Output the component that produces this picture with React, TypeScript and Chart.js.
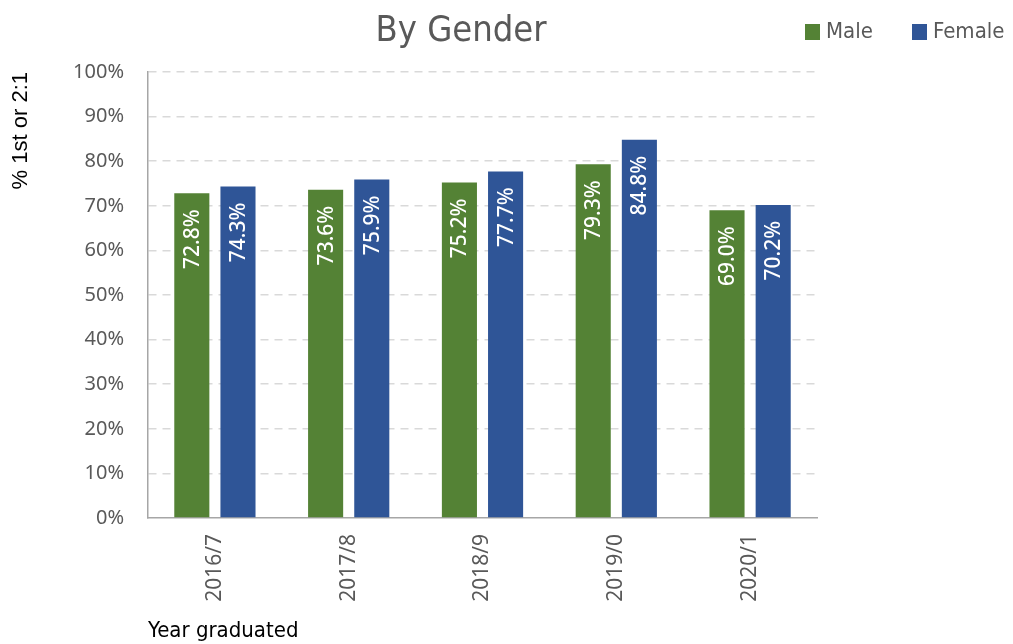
import React, { useEffect, useRef } from "react";
import { Chart, registerables } from "chart.js";

Chart.register(...registerables);

const categories = ["2016/7", "2017/8", "2018/9", "2019/0", "2020/1"];
const maleValues = [72.8, 73.6, 75.2, 79.3, 69.0];
const femaleValues = [74.3, 75.9, 77.7, 84.8, 70.2];
const seriesNames = ["Male", "Female"];
const seriesColors = ["#548235", "#2F5597"];
const yTicks = [0, 10, 20, 30, 40, 50, 60, 70, 80, 90, 100];
const chartTitle = "By Gender";
const yTitle = "% 1st or 2:1";
const xTitle = "Year graduated";

const DIN = "'DejaVu Sans Condensed', 'Roboto', sans-serif";
const BODY = "'Noto Sans', 'Liberation Sans', sans-serif";

const decorPlugin = {
  id: "decor",
  afterDatasetsDraw(chart: any) {
    const ctx = chart.ctx;
    ctx.save();
    // data labels
    chart.data.datasets.forEach((ds: any, di: number) => {
      const meta = chart.getDatasetMeta(di);
      meta.data.forEach((el: any, i: number) => {
        const v = ds.data[i];
        ctx.save();
        ctx.translate(el.x, el.y + 16);
        ctx.rotate(-Math.PI / 2);
        ctx.fillStyle = "#ffffff";
        ctx.font = `500 21px ${BODY}`;
        ctx.textAlign = "right";
        ctx.textBaseline = "middle";
        ctx.fillText(v.toFixed(1) + "%", 0, 1);
        ctx.restore();
      });
    });
    // title
    ctx.fillStyle = "#595959";
    ctx.font = `36px ${DIN}`;
    ctx.textAlign = "center";
    ctx.textBaseline = "middle";
    ctx.fillText(chartTitle, 461, 32);
    // legend
    ctx.font = `22px ${DIN}`;
    ctx.textAlign = "left";
    const legendX = [805, 912];
    chart.data.datasets.forEach((ds: any, di: number) => {
      ctx.fillStyle = ds.backgroundColor;
      ctx.fillRect(legendX[di], 24, 15, 16);
      ctx.fillStyle = "#595959";
      ctx.fillText(ds.label, legendX[di] + 21, 32);
    });
    ctx.restore();
  },
};

export default function App() {
  const ref = useRef<HTMLCanvasElement>(null);
  useEffect(() => {
    if (!ref.current) return;
    const chart = new Chart(ref.current, {
      type: "bar",
      data: {
        labels: categories,
        datasets: [
          {
            label: seriesNames[0],
            data: maleValues,
            backgroundColor: seriesColors[0],
            borderColor: seriesColors[0],
            categoryPercentage: 0.69,
            barPercentage: 0.76,
          },
          {
            label: seriesNames[1],
            data: femaleValues,
            backgroundColor: seriesColors[1],
            borderColor: seriesColors[1],
            categoryPercentage: 0.69,
            barPercentage: 0.76,
          },
        ],
      },
      plugins: [decorPlugin],
      options: {
        animation: false,
        responsive: false,
        maintainAspectRatio: false,
        layout: { padding: { left: 0, right: 196, top: 72, bottom: 0 } },
        plugins: {
          legend: { display: false },
          title: { display: false },
          tooltip: { enabled: false },
        },
        scales: {
          x: {
            grid: { display: false, drawTicks: false },
            border: { display: true, color: "#a6a6a6", width: 1.5 },
            ticks: {
              color: "#595959",
              font: { family: BODY, size: 21 },
              minRotation: 90,
              maxRotation: 90,
              padding: 16,
            },
            title: {
              display: true,
              text: xTitle,
              align: "start",
              color: "#000000",
              font: { family: DIN, size: 22, weight: "500" },
              padding: { top: 0, bottom: 0 },
            },
            afterFit(scale: any) {
              scale.height = 126;
            },
          },
          y: {
            min: 0,
            max: 100,
            afterBuildTicks(scale: any) {
              scale.ticks = yTicks.map((v) => ({ value: v }));
            },
            grid: {
              color: (c: any) => (c.tick && c.tick.value === 0 ? "rgba(0,0,0,0)" : "#d9d9d9"),
              lineWidth: 1.5,
              drawTicks: false,
            },
            border: { display: true, color: "#a6a6a6", width: 1.5, dash: [8, 6] },
            ticks: {
              color: "#595959",
              font: { family: BODY, size: 20 },
              padding: 24,
              callback: (v: any) => v + "%",
            },
            title: {
              display: true,
              text: yTitle,
              align: "end",
              color: "#000000",
              font: { family: "'Liberation Sans', sans-serif", size: 22 },
              padding: { top: 8, bottom: 0 },
            },
            afterFit(scale: any) {
              scale.width = 148;
            },
          },
        },
      },
    } as any);
    return () => chart.destroy();
  }, []);
  return (
    <div style={{ position: "fixed", left: 0, top: 0, width: 1013, height: 644, background: "#fff" }}>
      <canvas ref={ref} width={1013} height={644} style={{ width: 1013, height: 644 }} />
    </div>
  );
}
